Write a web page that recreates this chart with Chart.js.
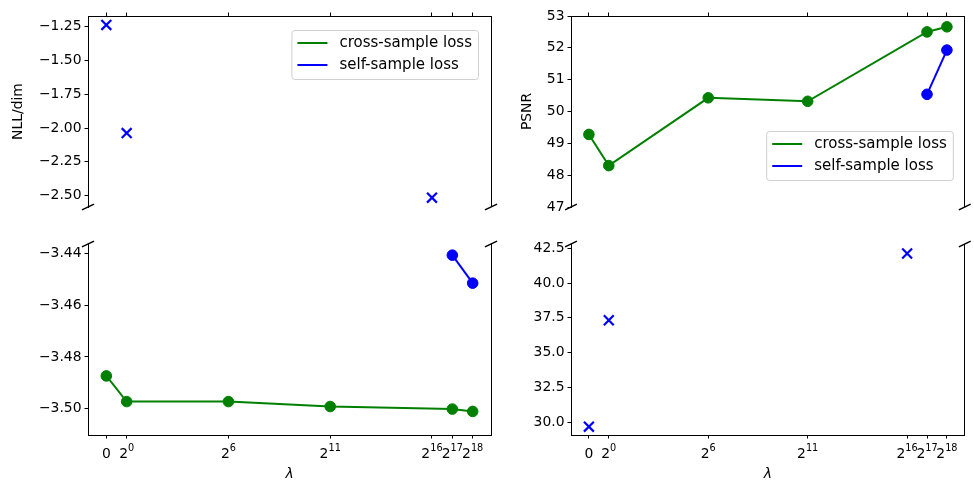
<!DOCTYPE html>
<html><head><meta charset="utf-8">
<script src="https://cdn.jsdelivr.net/npm/chart.js@4/dist/chart.umd.min.js"></script>
<style>
body{margin:0;background:#fff}
#wrap{position:relative;width:974px;height:483px;background:#fff}
canvas{position:absolute;left:0;top:0}
</style></head>
<body><div id="wrap">
<canvas id="c1" width="974" height="483"></canvas>
<canvas id="c2" width="974" height="483"></canvas>
<canvas id="c3" width="974" height="483"></canvas>
<canvas id="c4" width="974" height="483"></canvas>
</div>
<script>
// ---- data ----
const xPositions = [0, 1, 6, 11, 16, 17, 18];
const xTickBase = ['0', '2', '2', '2', '2', '2', '2'];
const xTickExp = ['', '0', '6', '11', '16', '17', '18'];
const crossX = [0, 1, 6, 11, 17, 18];
const selfX = [17, 18];
const selfOutlierX = [0, 1, 16];
const nllCross = [-3.4873, -3.4972, -3.4972, -3.4991, -3.5001, -3.5010];
const nllSelf = [-3.4407, -3.4515];
const nllSelfOutlier = [-1.237, -2.037, -2.515];
const psnrCross = [49.28, 48.30, 50.43, 50.32, 52.50, 52.66];
const psnrSelf = [50.54, 51.93];
const psnrSelfOutlier = [29.68, 37.33, 42.13];
const nllTopTicks = [-2.5, -2.25, -2.0, -1.75, -1.5, -1.25];
const nllBottomTicks = [-3.50, -3.48, -3.46, -3.44];
const psnrTopTicks = [47, 48, 49, 50, 51, 52, 53];
const psnrBottomTicks = [30.0, 32.5, 35.0, 37.5, 40.0, 42.5];

// ---- styling ----
const GREEN = '#008000', BLUE = '#0000ff';
const FONT = 'DejaVu Sans';
const FS = 13.9;
const pts = (xs, ys) => xs.map((x, i) => ({x, y: ys[i]}));

function datasets(cross, self, outl) {
  return [
    {label: 'cross-sample loss', data: pts(crossX, cross), showLine: true, inLegend: true,
     borderColor: GREEN, backgroundColor: GREEN, borderWidth: 2,
     pointRadius: 5.3, pointBorderWidth: 1, pointBorderColor: GREEN, pointBackgroundColor: GREEN},
    {label: 'self-sample loss', data: pts(selfX, self), showLine: true, inLegend: true,
     borderColor: BLUE, backgroundColor: BLUE, borderWidth: 2,
     pointRadius: 5.3, pointBorderWidth: 1, pointBorderColor: BLUE, pointBackgroundColor: BLUE},
    {label: 'self-sample loss (diverged)', data: pts(selfOutlierX, outl), showLine: false, inLegend: false,
     pointStyle: 'crossRot', pointRadius: 7, pointBorderWidth: 2.2,
     borderColor: BLUE, backgroundColor: BLUE, pointBorderColor: BLUE}
  ];
}

const framePlugin = {
  id: 'frame',
  afterDraw(chart, args, o) {
    const {ctx, chartArea: a} = chart;
    ctx.save();
    ctx.strokeStyle = '#000';
    ctx.lineWidth = 1;
    const xr = Math.floor(a.right) + 0.5;
    ctx.beginPath(); ctx.moveTo(xr, a.top); ctx.lineTo(xr, a.bottom); ctx.stroke();
    // break marks
    const w = a.right - a.left, h = a.bottom - a.top;
    const dx = 0.015 * w, dy = 0.015 * h;
    const yb = o.brk === 'bottom' ? a.bottom : a.top;
    ctx.lineWidth = 1.5;
    [a.left, a.right].forEach(xc => {
      ctx.beginPath(); ctx.moveTo(xc - dx, yb + dy); ctx.lineTo(xc + dx, yb - dy); ctx.stroke();
    });
    ctx.restore();
  }
};

// x tick labels of the form base^exp (drawn at the library's tick positions)
const xLabelPlugin = {
  id: 'xLabels',
  afterDraw(chart, args, o) {
    if (!o.show) return;
    const s = chart.scales.x;
    const ctx = chart.ctx;
    ctx.save();
    ctx.fillStyle = '#000';
    ctx.textBaseline = 'alphabetic';
    ctx.textAlign = 'left';
    const baseY = s.top + o.baseline;
    s.ticks.forEach(t => {
      const i = xPositions.indexOf(t.value);
      if (i < 0) return;
      const px = s.getPixelForValue(t.value);
      ctx.font = FS + 'px "' + FONT + '"';
      const wb = ctx.measureText(xTickBase[i]).width;
      const fe = FS * 0.7;
      ctx.font = fe + 'px "' + FONT + '"';
      const we = xTickExp[i] ? ctx.measureText(xTickExp[i]).width : 0;
      const x0 = px - (wb + we) / 2;
      ctx.font = FS + 'px "' + FONT + '"';
      ctx.fillText(xTickBase[i], x0, baseY);
      if (xTickExp[i]) {
        ctx.font = fe + 'px "' + FONT + '"';
        ctx.fillText(xTickExp[i], x0 + wb, baseY - o.raise);
      }
    });
    ctx.restore();
  }
};

const legendPlugin = {
  id: 'boxLegend',
  afterDraw(chart, args, o) {
    if (!o.show) return;
    const {ctx, chartArea: a} = chart;
    const items = chart.data.datasets.filter(d => d.inLegend);
    const fs = o.size;
    ctx.save();
    ctx.font = fs + 'px "' + FONT + '"';
    const tw = Math.max(...items.map(d => ctx.measureText(d.label).width));
    const pad = 0.4 * fs, hl = 2 * fs, gap = 0.8 * fs;
    const w = pad + hl + gap + tw + pad;
    const h = o.height;
    const x = a.right - o.right - w;
    const y = o.top != null ? a.top + o.top : a.bottom - o.bottom - h;
    ctx.beginPath();
    if (ctx.roundRect) ctx.roundRect(x + 0.5, y + 0.5, w, h, 3); else ctx.rect(x + 0.5, y + 0.5, w, h);
    ctx.fillStyle = 'rgba(255,255,255,0.8)';
    ctx.fill();
    ctx.strokeStyle = '#d0d0d0';
    ctx.lineWidth = 1;
    ctx.stroke();
    items.forEach((d, i) => {
      const cy = y + o.rows[i];
      ctx.strokeStyle = d.borderColor;
      ctx.lineWidth = 2;
      ctx.beginPath(); ctx.moveTo(x + pad, cy); ctx.lineTo(x + pad + hl, cy); ctx.stroke();
      ctx.fillStyle = '#000';
      ctx.textBaseline = 'middle';
      ctx.textAlign = 'left';
      ctx.fillText(d.label, x + pad + hl + gap, cy);
    });
    ctx.restore();
  }
};

function fmt(dec) {
  return v => Number(v).toFixed(dec).replace('-', '\u2212');
}

function makeChart(id, o) {
  const isTop = o.row === 'top';
  const isLeft = o.col === 'left';
  const chartLeft = isLeft ? 88 : 571;
  const chartRight = isLeft ? 491 : 973;
  const titleCenterX = isLeft ? 18 : 527;
  const lh = FS * 1.2;
  const padLeft = titleCenterX - lh / 2;
  const yWidth = chartLeft - padLeft;
  const top = isTop ? 16 : 244;
  const bottom = isTop ? 207 : 435;
  const xTitleY = 474.5;
  const padBottomBottom = 483 - xTitleY - lh / 2;
  const xAxisH = isTop ? 3.5 : (483 - padBottomBottom - bottom);
  const layoutPad = {
    left: padLeft,
    right: 974 - chartRight,
    top: isTop ? top - 3.5 : top,
    bottom: isTop ? 483 - bottom : padBottomBottom
  };
  return new Chart(document.getElementById(id), {
    type: 'scatter',
    data: {datasets: o.datasets},
    options: {
      responsive: false, animation: false, devicePixelRatio: 1, events: [],
      layout: {padding: layoutPad},
      plugins: {
        legend: {display: false}, tooltip: {enabled: false},
        frame: {brk: isTop ? 'bottom' : 'top'},
        xLabels: {show: !isTop, baseline: 23, raise: 7.5},
        boxLegend: o.legend || {show: false}
      },
      scales: {
        x: {
          type: 'linear', position: isTop ? 'top' : 'bottom',
          min: -0.9, max: 18.9,
          afterBuildTicks: s => { s.ticks = xPositions.map(v => ({value: v})); },
          afterFit: s => { s.height = xAxisH; },
          grid: {display: true, drawOnChartArea: false, drawTicks: true, tickLength: 3.5, color: '#000', lineWidth: 1},
          border: {display: true, color: '#000', width: 1},
          ticks: {display: false},
          title: {display: !isTop, text: 'λ', color: '#000', padding: 0,
                  font: {family: FONT, size: FS, style: 'italic'}}
        },
        y: {
          type: 'linear', position: 'left',
          min: o.yMin, max: o.yMax,
          afterBuildTicks: s => { s.ticks = o.yTicks.map(v => ({value: v})); },
          afterFit: s => { s.width = yWidth; },
          grid: {display: true, drawOnChartArea: false, drawTicks: true, tickLength: 3.5, color: '#000', lineWidth: 1},
          border: {display: true, color: '#000', width: 1},
          ticks: {autoSkip: false, padding: 3, color: '#000', font: {family: FONT, size: FS},
                  callback: fmt(o.dec)},
          title: {display: !!o.yTitle, text: o.yTitle || '', color: '#000', padding: 0,
                  font: {family: FONT, size: FS}}
        }
      }
    },
    plugins: [framePlugin, xLabelPlugin, legendPlugin]
  });
}

makeChart('c1', {row: 'top', col: 'left', yMin: -2.584, yMax: -1.171, yTicks: nllTopTicks, dec: 2,
  yTitle: 'NLL/dim', datasets: datasets(nllCross, nllSelf, nllSelfOutlier),
  legend: {show: true, size: 15, right: 13, top: 14, height: 49, rows: [13, 35]}});
makeChart('c2', {row: 'top', col: 'right', yMin: 47, yMax: 53, yTicks: psnrTopTicks, dec: 0,
  yTitle: 'PSNR', datasets: datasets(psnrCross, psnrSelf, psnrSelfOutlier),
  legend: {show: true, size: 15, right: 12, bottom: 27, height: 49, rows: [13, 35]}});
makeChart('c3', {row: 'bottom', col: 'left', yMin: -3.5101, yMax: -3.4364, yTicks: nllBottomTicks, dec: 2,
  datasets: datasets(nllCross, nllSelf, nllSelfOutlier)});
makeChart('c4', {row: 'bottom', col: 'right', yMin: 29.08, yMax: 42.81, yTicks: psnrBottomTicks, dec: 1,
  datasets: datasets(psnrCross, psnrSelf, psnrSelfOutlier)});
</script>
</body></html>
